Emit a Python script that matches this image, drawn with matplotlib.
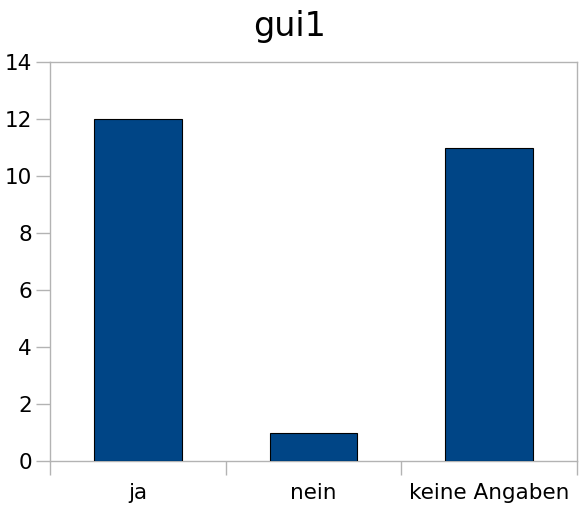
import matplotlib
matplotlib.use("Agg")
import matplotlib.pyplot as plt
import numpy as np

categories = ["ja", "nein", "keine Angaben"]
counts = [12, 1, 11]
title = "gui1"

bar_color = "#004586"
frame_color = "#b3b3b3"

fig = plt.figure(figsize=(5.79, 5.05), dpi=100)
ax = fig.add_axes([50 / 579, 44 / 505, 527 / 579, 399 / 505])

x = np.arange(len(categories))
ax.bar(x, counts, width=0.5, color=bar_color, edgecolor="black", linewidth=0.8, zorder=3)

ax.set_xlim(-0.5, len(categories) - 0.5)
ax.set_ylim(0, 14)
ax.set_yticks(range(0, 15, 2))

# category labels centred, tick marks on the category boundaries
ax.set_xticks(x)
ax.set_xticklabels(categories)
ax.tick_params(axis="x", which="major", length=0, pad=16, labelsize=15.5)
ax.set_xticks(np.arange(-0.5, len(categories)), minor=True)
ax.tick_params(axis="x", which="minor", length=10, color=frame_color, width=1)
ax.tick_params(axis="y", length=10, color=frame_color, width=1, labelsize=15.5, pad=3)

for side in ax.spines.values():
    side.set_color(frame_color)
    side.set_linewidth(1)

fig.suptitle(title, fontsize=24, y=0.98)

fig.savefig("out.png", dpi=100)
